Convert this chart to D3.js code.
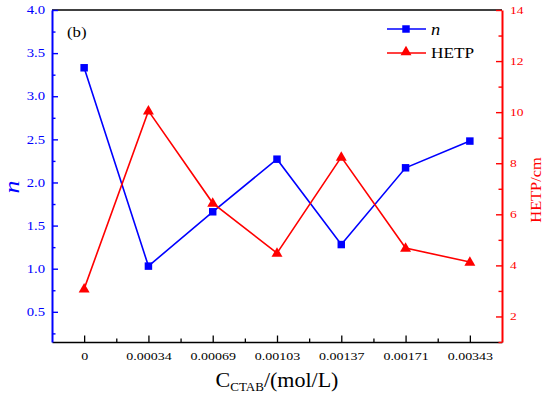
<!DOCTYPE html>
<html><head><meta charset="utf-8">
<script src="https://cdn.jsdelivr.net/npm/d3@7"></script>
<style>body{margin:0;background:#fff}svg{display:block}</style>
</head><body><svg id="c" width="550" height="398"></svg>
<script>
const categories = ["0","0.00034","0.00069","0.00103","0.00137","0.00171","0.00343"];
const nValues    = [3.33, 1.03, 1.66, 2.27, 1.28, 2.17, 2.48];
const hetpValues = [3.08, 10.05, 6.44, 4.48, 8.24, 4.68, 4.13];
const leftTicks  = [0.5,1.0,1.5,2.0,2.5,3.0,3.5,4.0];
const leftMinor  = [0.25,0.75,1.25,1.75,2.25,2.75,3.25,3.75];
const rightTicks = [2,4,6,8,10,12,14];
const rightMinor = [1,3,5,7,9,11,13];

const L=52,R=502,T=10,B=342;
const BLUE="#0000ff", RED="#ff0000";
const FONT="'Liberation Serif','Times New Roman',serif";
const svg=d3.select("#c");

const x=d3.scalePoint().domain(categories).range([L,R]).padding(0.5);
const xi=d3.scaleLinear().domain([-0.5,categories.length-0.5]).range([L,R]);
const yL=d3.scaleLinear().domain([0.15,4]).range([B,T]);
const yR=d3.scaleLinear().domain([1,14]).range([B,T]);

function stretchText(sel, sx){
  sel.each(function(){
    const t=d3.select(this);
    const xx=+t.attr("x")||0, yy=+t.attr("y")||0;
    t.attr("x",xx/sx).attr("transform",`scale(${sx},1)`);
  });
}

// top line
svg.append("line").attr("x1",L).attr("x2",R).attr("y1",T).attr("y2",T)
  .attr("stroke","#000").attr("stroke-width",1.6);

// bottom axis
const gx=svg.append("g").attr("transform",`translate(0,${B})`)
  .call(d3.axisBottom(x).tickSizeInner(-6.5).tickSizeOuter(0).tickPadding(10));
gx.select(".domain").attr("stroke","#000").attr("stroke-width",1.6);
gx.selectAll(".tick line").attr("stroke","#000").attr("stroke-width",1.3);
gx.selectAll("text").attr("font-family",FONT).attr("font-size",11).attr("fill","#000");
gx.selectAll("text").each(function(){
  d3.select(this).attr("transform","scale(1.27,1)");
});
gx.selectAll(".tick").each(function(){
  // keep label centred on tick after scaling
  const tr=d3.select(this).attr("transform");
});
const gxm=svg.append("g").attr("transform",`translate(0,${B})`)
  .call(d3.axisBottom(xi).tickValues([0.5,1.5,2.5,3.5,4.5,5.5]).tickSizeInner(-3.5).tickSizeOuter(0).tickFormat(""));
gxm.select(".domain").remove();
gxm.selectAll(".tick line").attr("stroke","#000").attr("stroke-width",1.3);

// left axis
const gl=svg.append("g").attr("transform",`translate(${L},0)`)
  .call(d3.axisLeft(yL).tickValues(leftTicks).tickFormat(d3.format(".1f")).tickSizeInner(-6).tickSizeOuter(0).tickPadding(7));
gl.select(".domain").attr("stroke",BLUE).attr("stroke-width",2);
gl.selectAll(".tick line").attr("stroke",BLUE).attr("stroke-width",1.4);
gl.selectAll("text").attr("font-family",FONT).attr("font-size",11.5).attr("fill",BLUE);
stretchText(gl.selectAll("text"),1.28);
const glm=svg.append("g").attr("transform",`translate(${L},0)`)
  .call(d3.axisLeft(yL).tickValues(leftMinor).tickFormat("").tickSizeInner(-3.5).tickSizeOuter(0));
glm.select(".domain").remove();
glm.selectAll(".tick line").attr("stroke",BLUE).attr("stroke-width",1.4);

// right axis
const gr=svg.append("g").attr("transform",`translate(${R},0)`)
  .call(d3.axisRight(yR).tickValues(rightTicks).tickSizeInner(-6).tickSizeOuter(0).tickPadding(8));
gr.select(".domain").attr("stroke",RED).attr("stroke-width",2);
gr.selectAll(".tick line").attr("stroke",RED).attr("stroke-width",1.4);
gr.selectAll("text").attr("font-family",FONT).attr("font-size",11).attr("fill",RED);
stretchText(gr.selectAll("text"),1.23);
const grm=svg.append("g").attr("transform",`translate(${R},0)`)
  .call(d3.axisRight(yR).tickValues(rightMinor).tickFormat("").tickSizeInner(-3.5).tickSizeOuter(0));
grm.select(".domain").remove();
grm.selectAll(".tick line").attr("stroke",RED).attr("stroke-width",1.4);

// series
const lineN=d3.line().x((d,i)=>x(categories[i])).y(d=>yL(d));
const lineH=d3.line().x((d,i)=>x(categories[i])).y(d=>yR(d));
svg.append("path").datum(nValues).attr("d",lineN).attr("fill","none").attr("stroke",BLUE).attr("stroke-width",1.6);
svg.append("path").datum(hetpValues).attr("d",lineH).attr("fill","none").attr("stroke",RED).attr("stroke-width",1.6);
const sq=d3.symbol().type(d3.symbolSquare).size(56);
const tri=d3.symbol().type(d3.symbolTriangle).size(52);
svg.selectAll(".sq").data(nValues).enter().append("path")
  .attr("d",sq).attr("fill",BLUE)
  .attr("transform",(d,i)=>`translate(${x(categories[i])},${yL(d)})`);
svg.selectAll(".tri").data(hetpValues).enter().append("path")
  .attr("d",tri).attr("fill",RED)
  .attr("transform",(d,i)=>`translate(${x(categories[i])},${yR(d)+0.5})`);

// legend
const lg=svg.append("g");
lg.append("line").attr("x1",387).attr("x2",426).attr("y1",29).attr("y2",29).attr("stroke",BLUE).attr("stroke-width",1.6);
lg.append("path").attr("d",sq).attr("fill",BLUE).attr("transform","translate(406,29)");
lg.append("text").attr("transform","translate(431,35) scale(1.15,1)").attr("font-family",FONT).attr("font-style","italic").attr("font-size",16).text("n");
lg.append("line").attr("x1",387).attr("x2",426).attr("y1",53).attr("y2",53).attr("stroke",RED).attr("stroke-width",1.6);
lg.append("path").attr("d",tri).attr("fill",RED).attr("transform","translate(406,52)");
lg.append("text").attr("transform","translate(431,58) scale(1.15,1)").attr("font-family",FONT).attr("font-size",15).text("HETP");

// panel label
svg.append("text").attr("transform","translate(67,37) scale(1.2,1)").attr("font-family",FONT).attr("font-size",14).text("(b)");

// axis titles
const xt=svg.append("text").attr("x",277).attr("y",387).attr("text-anchor","middle").attr("font-family",FONT).attr("font-size",22);
xt.append("tspan").text("C");
xt.append("tspan").attr("font-size",13).attr("dy",4).text("CTAB");
xt.append("tspan").attr("dy",-4).text("/(mol/L)");

svg.append("text").attr("transform","translate(19,187) rotate(-90) scale(1.3,1)").attr("text-anchor","middle")
  .attr("font-family",FONT).attr("font-style","italic").attr("font-size",20).attr("fill",BLUE).text("n");
svg.append("text").attr("transform","translate(541,190) rotate(-90) scale(1.2,1)").attr("text-anchor","middle")
  .attr("font-family",FONT).attr("font-size",13.6).attr("fill",RED).text("HETP/cm");
</script></body></html>
